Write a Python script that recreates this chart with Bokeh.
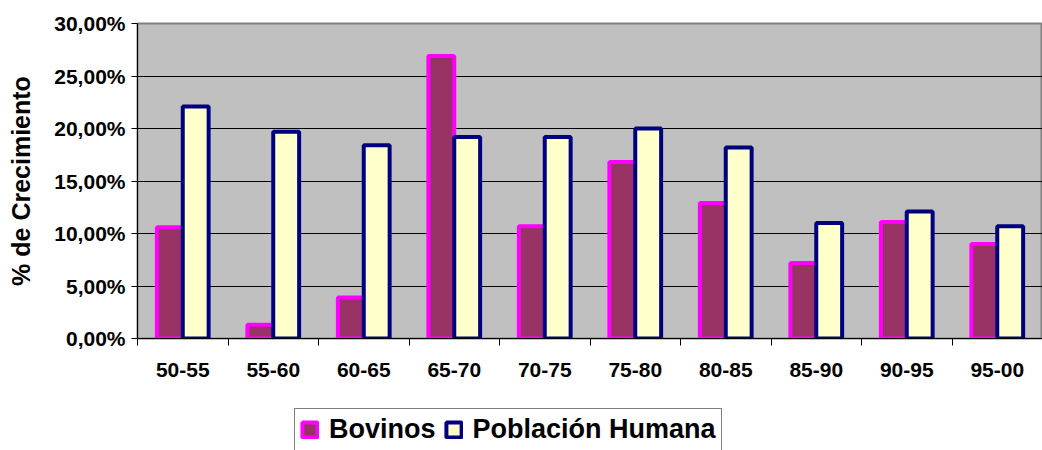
from bokeh.plotting import figure
from bokeh.models import (ColumnDataSource, Range1d, FixedTicker, Legend, LegendItem)
from bokeh.layouts import column
from bokeh.transform import dodge
from bokeh.embed import file_html
from bokeh.resources import INLINE

categories = ["50-55", "55-60", "60-65", "65-70", "70-75",
              "75-80", "80-85", "85-90", "90-95", "95-00"]
bovinos = [10.6, 1.3, 3.9, 26.9, 10.7, 16.8, 12.9, 7.2, 11.1, 9.0]
humana = [22.1, 19.7, 18.4, 19.2, 19.2, 20.0, 18.2, 11.0, 12.1, 10.7]
y_ticks = [0, 5, 10, 15, 20, 25, 30]
y_tick_labels = ["0,00%", "5,00%", "10,00%", "15,00%", "20,00%", "25,00%", "30,00%"]
series_names = ["Bovinos", "Población Humana"]

FONT = "Liberation Sans"
BOV_FILL, BOV_LINE = "#993366", "#FF00FF"
HUM_FILL, HUM_LINE = "#FFFFCC", "#000080"
n = len(categories)
centers = [i + 0.5 for i in range(n)]
bounds = list(range(n + 1))

src = ColumnDataSource(dict(x=centers, bov=bovinos, hum=humana))

p = figure(width=1042, height=400, output_backend="svg", toolbar_location=None,
           x_range=Range1d(0, n), y_range=Range1d(0, 30),
           min_border_left=137, min_border_right=0, min_border_top=23,
           min_border_bottom=62)
p.background_fill_color = "#C0C0C0"
p.border_fill_color = "white"
p.outline_line_color = "#808080"
p.outline_line_width = 2

bw = 0.286
p.vbar(x=dodge("x", -bw / 2, range=p.x_range), top="bov", width=bw, bottom=0,
       source=src, fill_color=BOV_FILL, line_color=BOV_LINE, line_width=4)
p.vbar(x=dodge("x", bw / 2, range=p.x_range), top="hum", width=bw, bottom=0,
       source=src, fill_color=HUM_FILL, line_color=HUM_LINE, line_width=4)

# grid
p.xgrid.visible = False
p.ygrid.grid_line_color = "black"
p.ygrid.grid_line_width = 1
p.ygrid.ticker = FixedTicker(ticks=y_ticks)

# y axis
ya = p.yaxis[0]
ya.ticker = FixedTicker(ticks=y_ticks)
ya.major_label_overrides = {t: l for t, l in zip(y_ticks, y_tick_labels)}
ya.major_label_text_font = FONT
ya.major_label_text_font_style = "bold"
ya.major_label_text_font_size = "21px"
ya.major_label_text_color = "black"
ya.major_tick_out = 6
ya.major_tick_in = 0
ya.major_label_standoff = 6
ya.minor_tick_line_color = None
ya.axis_line_color = "black"
ya.axis_label = "% de Crecimiento"
ya.axis_label_text_font = FONT
ya.axis_label_text_font_style = "bold"
ya.axis_label_text_font_size = "25px"
ya.axis_label_text_color = "black"
ya.axis_label_standoff = 16

# x axis
xa = p.xaxis[0]
xa.ticker = FixedTicker(ticks=centers, minor_ticks=bounds)
xa.major_label_overrides = {c: l for c, l in zip(centers, categories)}
xa.major_label_text_font = FONT
xa.major_label_text_font_style = "bold"
xa.major_label_text_font_size = "21px"
xa.major_label_text_color = "black"
xa.major_tick_line_color = None
xa.major_tick_out = 0
xa.major_tick_in = 0
xa.major_label_standoff = 17
xa.minor_tick_out = 7
xa.minor_tick_in = 0
xa.minor_tick_line_color = "black"
xa.axis_line_color = "black"

# legend strip below the chart (its frame is aligned with the chart's frame)
p2 = figure(width=1042, height=50, output_backend="svg", toolbar_location=None,
            x_range=Range1d(0, 1), y_range=Range1d(0, 1),
            x_axis_type=None, y_axis_type=None,
            min_border_left=137, min_border_right=0, min_border_top=0, min_border_bottom=0)
p2.outline_line_color = None
p2.xgrid.visible = False
p2.ygrid.visible = False
p2.background_fill_color = "white"
p2.border_fill_color = "white"
# swatch-only renderers for the legend (no drawable data)
nan = float("nan")
lr1 = p2.vbar(x=[nan], top=[nan], width=0.1, fill_color=BOV_FILL, line_color=BOV_LINE, line_width=4)
lr2 = p2.vbar(x=[nan], top=[nan], width=0.1, fill_color=HUM_FILL, line_color=HUM_LINE, line_width=4)

legend = Legend(items=[LegendItem(label=series_names[0], renderers=[lr1]),
                       LegendItem(label=series_names[1], renderers=[lr2])],
                orientation="horizontal", location=(157, -1),
                label_text_font=FONT, label_text_font_style="bold",
                label_text_font_size="27px", label_text_color="black",
                glyph_width=19, glyph_height=19, label_standoff=10, spacing=8,
                padding=5, margin=0, border_line_color="black", border_line_width=1,
                background_fill_color="white", background_fill_alpha=1.0)
p2.add_layout(legend, "center")

layout = column(p, p2, spacing=0)
open("out.html", "w").write(file_html(layout, INLINE))
